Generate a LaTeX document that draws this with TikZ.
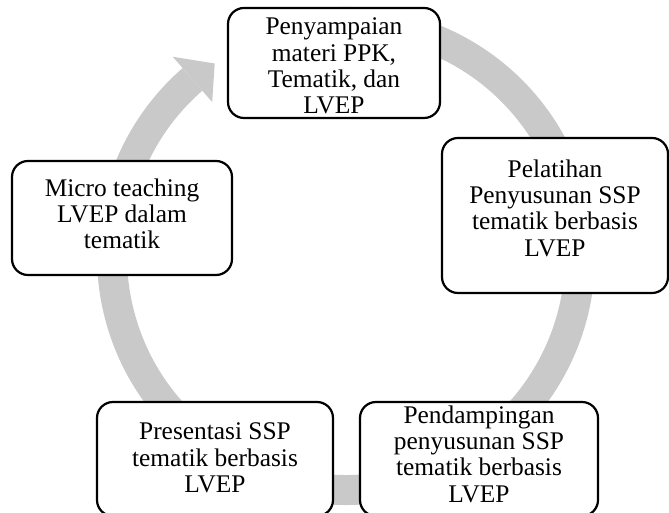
\documentclass[tikz,border=0pt]{standalone}
\usepackage{fontspec}
\setmainfont{Liberation Serif}
\definecolor{ringgray}{RGB}{201,201,201}
\tikzset{
  stagebox/.style={draw=black, line width=2.2pt, rounded corners=16pt, fill=white, inner sep=0pt},
  stagetext/.style={align=center, inner sep=0pt, font=\fontsize{25.4}{26.3}\selectfont, text=black},
}
\begin{document}
\begin{tikzpicture}[x=1pt,y=1pt]
\useasboundingbox (0,0) rectangle (669,513);
\clip (0,0) rectangle (669,513);
\coordinate (c) at (346,257);
% cycle ring with arrow
\begin{scope}[shift={(c)}]
  \draw[ringgray, line width=30pt] (100:234pt) arc[start angle=100, end angle=-229, radius=234pt];
  \fill[ringgray] (131:204pt) -- (131:264pt) -- (124.3:233pt) -- cycle;
\end{scope}
% boxes
\node[stagebox, minimum width=212pt, minimum height=110pt] (b1) at (334,450) {};
\node[stagebox, minimum width=226pt, minimum height=155pt] (b2) at (555,297.5) {};
\node[stagebox, minimum width=238pt, minimum height=114pt] (b3) at (479,54) {};
\node[stagebox, minimum width=236pt, minimum height=114pt] (b4) at (215,54) {};
\node[stagebox, minimum width=220pt, minimum height=114pt] (b5) at (122,295) {};
% texts
\node[stagetext] (t1) at (334,447) {Penyampaian\\materi PPK,\\Tematik, dan\\LVEP};
\node[stagetext] (t2) at (555,305) {Pelatihan\\Penyusunan SSP\\tematik berbasis\\LVEP};
\node[stagetext] (t3) at (479,59) {Pendampingan\\penyusunan SSP\\tematik berbasis\\LVEP};
\node[stagetext] (t4) at (215,55) {Presentasi SSP\\tematik berbasis\\LVEP};
\node[stagetext] (t5) at (122,299) {Micro teaching\\LVEP dalam\\tematik};
\end{tikzpicture}
\end{document}
